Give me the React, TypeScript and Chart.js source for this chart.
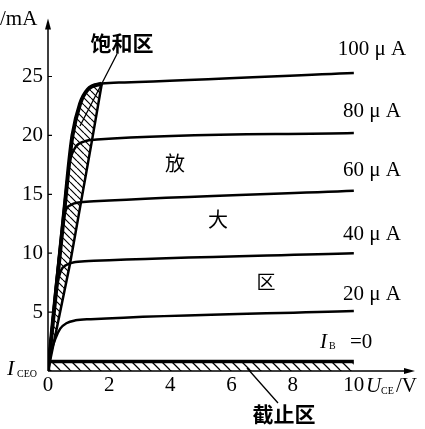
import React, { useEffect, useRef } from "react";
import { Chart, registerables } from "chart.js";

Chart.register(...registerables);

// ---- data (U_CE in V, I_C in mA) ----
const uceTicks = [0, 2, 4, 6, 8, 10];
const icTicks = [5, 10, 15, 20, 25];

const uce20 = [0, 0.1, 0.25, 0.4, 0.6, 0.9, 1.4, 10];
const ic20 = [0, 1.6, 2.8, 3.6, 4.05, 4.3, 4.4, 5.1];

const uce40 = [0, 0.15, 0.3, 0.42, 0.6, 0.9, 1.5, 10];
const ic40 = [0, 4.0, 7.3, 8.5, 9.0, 9.25, 9.35, 10.0];

const uce60 = [0, 0.2, 0.4, 0.55, 0.75, 1.0, 1.5, 10];
const ic60 = [0, 5.5, 10.5, 13.4, 14.1, 14.3, 14.4, 15.3];

const uce80 = [0, 0.25, 0.5, 0.7, 0.9, 1.2, 1.6, 10];
const ic80 = [0, 7.0, 13.2, 17.6, 19.0, 19.5, 19.65, 20.2];

const uce100 = [0, 0.2, 0.36, 0.56, 0.67, 0.8, 1.05, 1.3, 1.76, 2.5, 10];
const ic100 = [0, 5.2, 9.2, 14.3, 17.2, 20.0, 22.7, 23.9, 24.4, 24.5, 25.3];

// saturation region boundaries
const satLeftU = [0, 0.2, 0.36, 0.56, 0.67, 0.8, 1.05, 1.3, 1.76];
const satLeftI = [0, 5.2, 9.2, 14.3, 17.2, 20.0, 22.7, 23.9, 24.4];
const satRightU = [0, 0.72, 1.44, 1.76];
const satRightI = [0, 9.1, 19.6, 24.4];

// cut-off (I_B = 0) line, I_CEO
const uceCut = [0, 10];
const icCut = [0.8, 0.8];

const curveLabels = ["20 μ A", "40 μ A", "60 μ A", "80 μ A", "100 μ A"];

const pts = (xs: number[], ys: number[]) => xs.map((x, i) => ({ x, y: ys[i] }));

function makeHatch(ctx: CanvasRenderingContext2D, size: number, lw: number) {
  const c = document.createElement("canvas");
  c.width = size;
  c.height = size;
  const g = c.getContext("2d")!;
  g.strokeStyle = "#000";
  g.lineWidth = lw;
  g.beginPath();
  for (const k of [-1, 0, 1]) {
    g.moveTo(k * size, 0);
    g.lineTo(k * size + size, size);
  }
  g.stroke();
  return ctx.createPattern(c, "repeat")!;
}

const SERIF = "'Liberation Serif', 'Times New Roman', serif";
const CJK = "'Noto Sans CJK SC', sans-serif";

export default function App() {
  const ref = useRef<HTMLCanvasElement | null>(null);

  useEffect(() => {
    const canvas = ref.current!;
    const c2d = canvas.getContext("2d")!;
    const satPattern = makeHatch(c2d, 7, 1.2);
    const cutPattern = makeHatch(c2d, 10, 1.3);

    const overlay = {
      id: "overlay",
      afterDatasetsDraw(chart: any) {
        const { ctx, chartArea, scales } = chart;
        const xs = scales.x;
        const ys = scales.y;
        const meta = chart.getDatasetMeta(5);
        const line = meta.dataset;
        if (line && line.updateControlPoints) line.updateControlPoints(chartArea, "x");
        const p = meta.data;
        ctx.save();
        ctx.beginPath();
        p.forEach((pt: any, i: number) => {
          if (i === 0) ctx.moveTo(pt.x, pt.y);
          else {
            const q = p[i - 1];
            if (q.cp2x != null && pt.cp1x != null)
              ctx.bezierCurveTo(q.cp2x, q.cp2y, pt.cp1x, pt.cp1y, pt.x, pt.y);
            else ctx.lineTo(pt.x, pt.y);
          }
        });
        for (let i = satRightU.length - 1; i >= 0; i--) {
          ctx.lineTo(xs.getPixelForValue(satRightU[i]), ys.getPixelForValue(satRightI[i]));
        }
        ctx.closePath();
        ctx.fillStyle = satPattern;
        ctx.fill();
        ctx.restore();
      },
      afterDraw(chart: any) {
        const { ctx, chartArea, scales } = chart;
        const ys = scales.y;
        const { left, right, top, bottom } = chartArea;
        ctx.save();
        ctx.strokeStyle = "#000";
        ctx.fillStyle = "#000";
        ctx.lineWidth = 1.5;
        // axes
        ctx.beginPath();
        ctx.moveTo(left, bottom);
        ctx.lineTo(right - 6, bottom);
        ctx.moveTo(left, bottom);
        ctx.lineTo(left, top + 6);
        ctx.stroke();
        // arrows
        ctx.beginPath();
        ctx.moveTo(right, bottom);
        ctx.lineTo(right - 11, bottom - 3);
        ctx.lineTo(right - 11, bottom + 3);
        ctx.closePath();
        ctx.fill();
        ctx.beginPath();
        ctx.moveTo(left, top + 1);
        ctx.lineTo(left - 3, top + 12);
        ctx.lineTo(left + 3, top + 12);
        ctx.closePath();
        ctx.fill();
        // inner y ticks
        ctx.lineWidth = 1.2;
        ctx.beginPath();
        icTicks.forEach((v) => {
          const py = ys.getPixelForValue(v);
          ctx.moveTo(left, py);
          ctx.lineTo(left + 4, py);
        });
        ctx.stroke();

        const txt = (s: string, x: number, y: number, font: string, align: CanvasTextAlign = "center") => {
          ctx.font = font;
          ctx.textAlign = align;
          ctx.textBaseline = "middle";
          ctx.fillText(s, x, y);
        };

        // y unit
        txt("/mA", 0, 19, `21px ${SERIF}`, "left");
        // curve labels
        const labelY = [294, 234, 170, 111, 49];
        curveLabels.forEach((s, i) => txt(s, 372, labelY[i], `21px ${SERIF}`));
        // I_B = 0
        txt("I", 320, 342, `italic 21px ${SERIF}`, "left");
        txt("B", 329, 346, `10px ${SERIF}`, "left");
        txt("=0", 350, 342, `21px ${SERIF}`, "left");
        // I_CEO
        txt("I", 7, 369, `italic 22px ${SERIF}`, "left");
        txt("CEO", 17, 374, `10px ${SERIF}`, "left");
        // U_CE / V
        txt("U", 366, 386, `italic 21px ${SERIF}`, "left");
        txt("CE", 381, 391, `10px ${SERIF}`, "left");
        txt("/V", 396, 386, `21px ${SERIF}`, "left");
        // region names
        txt("饱和区", 122, 43, `bold 21px ${CJK}`);
        txt("放", 175, 163, `20px ${CJK}`);
        txt("大", 218, 219, `20px ${CJK}`);
        txt("区", 266, 282, `19px ${CJK}`);
        txt("截止区", 284, 414, `bold 21px ${CJK}`);
        // leader lines
        ctx.lineWidth = 1.3;
        ctx.beginPath();
        ctx.moveTo(117, 54);
        ctx.lineTo(80, 126);
        ctx.moveTo(278, 403);
        ctx.lineTo(247, 368);
        ctx.stroke();
        ctx.restore();
      },
    };

    const curve = (xs: number[], ysv: number[], w: number) => ({
      data: pts(xs, ysv),
      borderColor: "#000",
      borderWidth: w,
      pointRadius: 0,
      fill: false,
      cubicInterpolationMode: "monotone" as const,
    });

    const chart = new Chart(canvas, {
      type: "line",
      data: {
        datasets: [
          curve(uce20, ic20, 2.5),
          curve(uce40, ic40, 2.5),
          curve(uce60, ic60, 2.5),
          curve(uce80, ic80, 2.5),
          curve(uce100, ic100, 2.5),
          curve(satLeftU, satLeftI, 4),
          { ...curve(satRightU, satRightI, 2.5), cubicInterpolationMode: "default" as const, tension: 0 },
          {
            data: pts(uceCut, icCut),
            borderColor: "#000",
            borderWidth: 3.5,
            pointRadius: 0,
            tension: 0,
            fill: "origin",
            backgroundColor: cutPattern as any,
          },
        ],
      },
      options: {
        responsive: false,
        animation: false,
        layout: { padding: { top: 6, right: 10, left: 0, bottom: 0 } },
        plugins: { legend: { display: false }, tooltip: { enabled: false } },
        scales: {
          x: {
            type: "linear",
            min: 0,
            max: 12,
            afterBuildTicks: (s: any) => {
              s.ticks = uceTicks.map((v) => ({ value: v }));
            },
            ticks: {
              font: { family: SERIF, size: 21 },
              color: "#000",
              padding: 2,
              maxRotation: 0,
              autoSkip: false,
            },
            grid: { display: false, drawTicks: false },
            border: { display: false },
            afterFit: (s: any) => {
              s.height = 58;
            },
          },
          y: {
            type: "linear",
            min: 0,
            max: 30,
            afterBuildTicks: (s: any) => {
              s.ticks = icTicks.map((v) => ({ value: v }));
            },
            ticks: {
              font: { family: SERIF, size: 21 },
              color: "#000",
              padding: 5,
              autoSkip: false,
            },
            grid: { display: false, drawTicks: false },
            border: { display: false },
            afterFit: (s: any) => {
              s.width = 48;
            },
          },
        },
      },
      plugins: [overlay],
    });
    return () => chart.destroy();
  }, []);

  return (
    <div style={{ position: "absolute", left: 0, top: 0, width: 425, height: 429, background: "#fff" }}>
      <canvas ref={ref} width={425} height={429} style={{ width: 425, height: 429, display: "block" }} />
    </div>
  );
}
